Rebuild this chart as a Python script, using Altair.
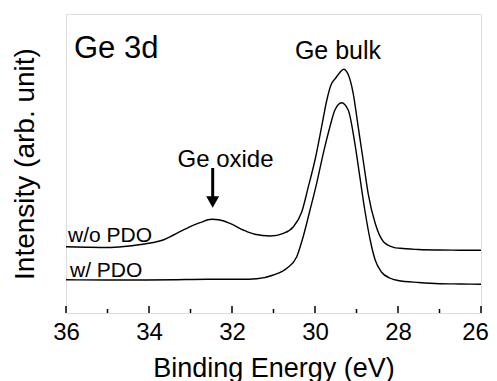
import altair as alt
import pandas as pd

# ---- data ----
wo_energy = [36.0, 35.5, 35.0, 34.6, 34.2, 33.9, 33.66, 33.41, 33.09, 32.77, 32.49, 32.29,
             32.05, 31.73, 31.45, 31.08, 30.76, 30.52, 30.32, 30.16, 30.0, 29.84, 29.72,
             29.62, 29.5, 29.4, 29.31, 29.2, 29.08, 28.96, 28.84, 28.72, 28.55, 28.35, 28.11,
             27.95, 27.5, 27.0, 26.5, 26.0]
wo_intensity = [66.3, 65.8, 65.5, 66.5, 68.5, 70.5, 73.0, 78.0, 84.7, 90.3, 93.7, 93.0,
                89.7, 83.0, 78.7, 77.0, 79.7, 86.3, 101.0, 126.3, 153.0, 186.3, 212.0,
                227.5, 235.0, 240.5, 243.7, 238.5, 219.7, 186.3, 153.0, 119.7, 89.7, 71.3,
                65.7, 64.7, 63.5, 63.0, 62.8, 62.7]

w_energy = [36.0, 35.0, 34.2, 33.4, 32.6, 31.8, 31.4, 31.0, 30.68, 30.44, 30.28, 30.12,
            29.96, 29.8, 29.64, 29.52, 29.36, 29.2, 29.04, 28.92, 28.8, 28.67, 28.55,
            28.4, 28.2, 28.0, 27.5, 27.0, 26.5, 26.0]
w_intensity = [33.3, 33.0, 33.0, 33.3, 33.7, 33.7, 34.3, 38.0, 44.7, 56.3, 77.0, 103.0,
               129.7, 159.7, 186.3, 203.0, 210.3, 203.0, 169.7, 136.3, 103.0, 73.0, 53.0,
               41.0, 35.0, 32.5, 30.5, 29.3, 29.0, 28.7]

series_names = ["w/o PDO", "w/ PDO"]
major_ticks = [36, 34, 32, 30, 28, 26]
minor_ticks = [35, 33, 31, 29, 27]

FONT = "Liberation Sans"

df = pd.concat([
    pd.DataFrame({"energy": wo_energy, "intensity": wo_intensity, "series": series_names[0]}),
    pd.DataFrame({"energy": w_energy, "intensity": w_intensity, "series": series_names[1]}),
])

xscale = alt.Scale(domain=[26, 36], reverse=True, nice=False, zero=False)
yscale = alt.Scale(domain=[0, 299], nice=False, zero=False)

lines = alt.Chart(df).mark_line(strokeWidth=1.4, interpolate="monotone").encode(
    x=alt.X("energy:Q", scale=xscale,
            axis=alt.Axis(values=major_ticks, format="d", ticks=False, domain=False, grid=False,
                          labelFontSize=24, labelFont=FONT, labelColor="black",
                          labelPadding=7, labelFlush=False, labelOverlap=False,
                          labelOffset={"expr": "datum.value == 26 ? -6 : 0"},
                          title="Binding Energy (eV)", titleFont=FONT, titleFontSize=27,
                          titleFontWeight="normal", titleColor="black", titlePadding=11)),
    y=alt.Y("intensity:Q", scale=yscale,
            axis=alt.Axis(ticks=False, labels=False, domain=False, grid=False,
                          title="Intensity (arb. unit)", titleFont=FONT, titleFontSize=28,
                          titleFontWeight="normal", titleColor="black", titlePadding=27)),
    color=alt.Color("series:N", scale=alt.Scale(domain=series_names, range=["black", "black"]),
                    legend=None),
    detail="series:N",
)

major = alt.Chart(pd.DataFrame({"t": major_ticks})).mark_rule(color="black", strokeWidth=1.5).encode(
    x=alt.X("t:Q", scale=xscale), y=alt.value(299), y2=alt.value(292))
minor = alt.Chart(pd.DataFrame({"t": minor_ticks})).mark_rule(color="black", strokeWidth=1.5).encode(
    x=alt.X("t:Q", scale=xscale), y=alt.value(299), y2=alt.value(295))

one = alt.Data(values=[{}])

def label(txt, x, y, size, align="left"):
    return alt.Chart(one).mark_text(text=txt, font=FONT, fontSize=size, align=align,
                                    baseline="alphabetic", color="black").encode(
        x=alt.value(x), y=alt.value(y))

texts = [
    label("Ge 3d", 8, 44, 31),
    label("Ge bulk", 272, 45, 25, "center"),
    label("Ge oxide", 159.5, 153, 24, "center"),
    label("w/o PDO", 2, 228, 21),
    label("w/ PDO", 4, 263, 21),
]

shaft = alt.Chart(one).mark_rule(color="black", strokeWidth=3).encode(
    x=alt.value(146.7), y=alt.value(154), y2=alt.value(184))
head = alt.Chart(one).mark_point(shape="triangle-down", filled=True, color="black",
                                  size=169, opacity=1).encode(
    x=alt.value(146.7), y=alt.value(188))

chart = alt.layer(lines, major, minor, shaft, head, *texts).properties(
    width=415, height=299,
    autosize=alt.AutoSizeParams(type="none"),
    padding={"left": 58, "top": 6, "right": 8, "bottom": 68},
).configure_view(stroke="black", strokeWidth=2).configure(background="white")

chart.save("out.html", embed_options={"renderer": "svg", "actions": False})
